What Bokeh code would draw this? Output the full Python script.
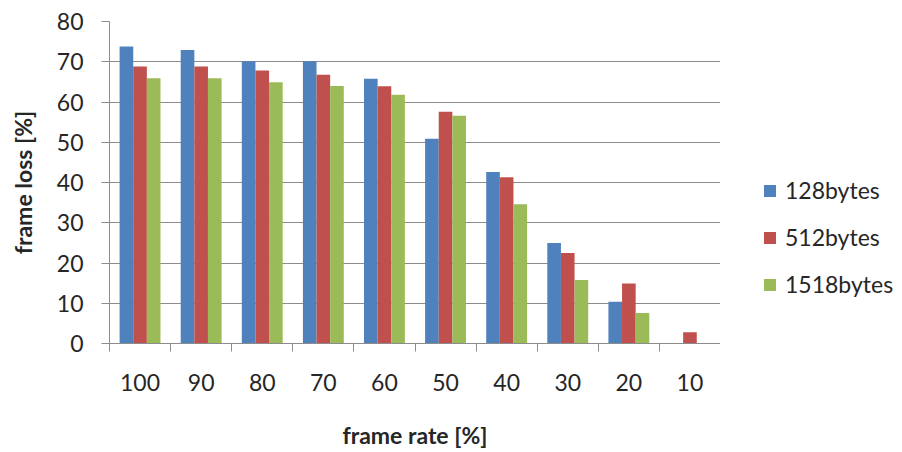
from bokeh.plotting import figure
from bokeh.layouts import row
from bokeh.models import (ColumnDataSource, FixedTicker, Legend, LegendItem,
                          Range1d)
from bokeh.embed import file_html
from bokeh.resources import INLINE
import numpy as np

# Frame rate categories (x axis) and frame loss per frame size
rates = ["100", "90", "80", "70", "60", "50", "40", "30", "20", "10"]
loss_128 = [73.8, 72.9, 70.1, 70.1, 65.8, 50.9, 42.6, 25.0, 10.4, 0.0]
loss_512 = [68.8, 68.8, 67.8, 66.8, 63.9, 57.6, 41.3, 22.5, 14.9, 2.8]
loss_1518 = [65.9, 65.9, 64.9, 64.0, 61.8, 56.6, 34.6, 15.8, 7.6, 0.0]
series_names = ["128bytes", "512bytes", "1518bytes"]
colors = ["#4F81BD", "#C0504D", "#9BBB59"]

FONT = "Lato"
GRID = "#8C8C8C"
TEXT = "#262626"

centers = np.arange(len(rates)) + 0.5
src = ColumnDataSource(dict(x=centers, a=loss_128, b=loss_512, c=loss_1518))

p = figure(width=720, height=452, output_backend="svg", toolbar_location=None,
           x_range=Range1d(0, len(rates)), y_range=Range1d(0, 80),
           min_border_left=109, min_border_right=0,
           min_border_top=21, min_border_bottom=109)
p.outline_line_color = None

bw = 0.223
for key, off, col in zip(["a", "b", "c"], [-bw, 0.0, bw], colors):
    p.vbar(x=src.data["x"] + off, top=src.data[key], width=bw,
           fill_color=col, line_color=None)

# x axis: labels at category centers, tick marks at category boundaries
p.xaxis.ticker = FixedTicker(ticks=list(centers),
                             minor_ticks=list(range(len(rates) + 1)))
p.xaxis.major_label_overrides = {float(c): lab for c, lab in zip(centers, rates)}
p.xaxis.major_tick_out = 0
p.xaxis.major_tick_in = 0
p.xaxis.minor_tick_out = 8
p.xaxis.minor_tick_in = 0
p.xaxis.minor_tick_line_color = GRID
p.xaxis.axis_line_color = GRID
p.xaxis.major_label_standoff = 22
p.xaxis.axis_label = "frame rate [%]"
p.xaxis.axis_label_standoff = 27

p.yaxis.ticker = FixedTicker(ticks=list(range(0, 81, 10)))
p.yaxis.major_tick_out = 8
p.yaxis.major_tick_in = 0
p.yaxis.minor_tick_out = 0
p.yaxis.minor_tick_in = 0
p.yaxis.major_tick_line_color = GRID
p.yaxis.axis_line_color = GRID
p.yaxis.major_label_standoff = 18
p.yaxis.axis_label = "frame loss [%]"
p.yaxis.axis_label_standoff = 17

for ax in (p.xaxis, p.yaxis):
    ax.major_label_text_font = FONT
    ax.major_label_text_font_size = "23px"
    ax.major_label_text_color = TEXT
    ax.axis_label_text_font = FONT
    ax.axis_label_text_font_size = "23px"
    ax.axis_label_text_font_style = "bold"
    ax.axis_label_text_color = TEXT

p.xgrid.grid_line_color = None
p.ygrid.ticker = FixedTicker(ticks=list(range(10, 81, 10)))
p.ygrid.grid_line_color = GRID
p.ygrid.grid_line_width = 1

# Legend panel to the right of the chart; its key renderers are hidden,
# so only the legend swatches and labels are drawn there.
lp = figure(width=182, height=452, output_backend="svg", toolbar_location=None,
            x_range=Range1d(0, 1), y_range=Range1d(0, 1),
            x_axis_location=None, y_axis_location=None,
            min_border=0)
lp.outline_line_color = None
lp.grid.visible = False
keys = [lp.vbar(x="x", top=k, width=bw, source=src, fill_color=col,
                line_color=None, visible=False)
        for k, col in zip(["a", "b", "c"], colors)]

legend = Legend(
    items=[LegendItem(label=n, renderers=[r]) for n, r in zip(series_names, keys)],
    location=(42, 45), orientation="vertical",
    label_text_font=FONT, label_text_font_size="23px", label_text_color=TEXT,
    glyph_width=15, glyph_height=15, label_height=20, spacing=19,
    label_standoff=8, padding=0, margin=0, border_line_color=None,
    background_fill_alpha=0, inactive_fill_alpha=0,
)
lp.add_layout(legend, "center")

layout = row(p, lp)
open("out.html", "w").write(file_html(layout, INLINE))
